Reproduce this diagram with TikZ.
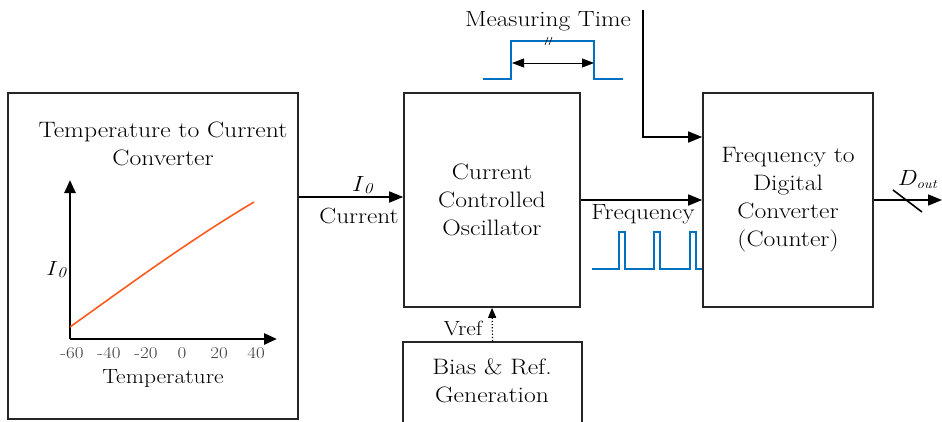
\documentclass[tikz,border=0pt]{standalone}
\usepackage{fontspec}
\setmainfont{Latin Modern Roman}[FakeStretch=1.15]
\usetikzlibrary{arrows.meta}
\definecolor{wblue}{RGB}{0,112,192}
\definecolor{corange}{RGB}{255,90,30}
\newcommand{\Izero}{\textit{I}\raisebox{-2pt}{\fontsize{15}{15}\selectfont\itshape 0}}
\begin{document}
\begin{tikzpicture}[x=1pt,y=-1pt,
  blk/.style={draw=black!85,line width=1.6pt,minimum width=#1},
  txt/.style={font=\fontsize{22.3}{28}\selectfont,align=center,inner sep=0pt},
  lbl/.style={font=\fontsize{22}{24}\selectfont,inner sep=0pt},
  glbl/.style={font=\fontsize{20.5}{24}\selectfont,inner sep=0pt},
  tick/.style={font=\fontsize{16.5}{18}\selectfont,text=black!75,inner sep=0pt},
  arr/.style={line width=1.6pt,-{Triangle[length=14pt,width=11pt]}},
  wave/.style={draw=wblue,line width=2.4pt}]
\useasboundingbox (0,0) rectangle (942,421);
% boxes
\node[blk=290pt,minimum height=326pt] (tc) at (153,256) {};
\node[blk=176pt,minimum height=214pt] (cco) at (492,200) {};
\node[blk=170pt,minimum height=214pt] (fdc) at (788,200) {};
\node[blk=179pt,minimum height=90pt] (bias) at (492.5,387) {};
% box texts
\node[txt] (tctitle) at (163,144) {Temperature to Current\\Converter};
\node[txt] (ccotext) at (492,200) {Current\\Controlled\\Oscillator};
\node[txt] (fdctext) at (788,200) {Frequency to\\Digital\\Converter\\(Counter)};
\node[txt] (biastext) at (492,381) {Bias \& Ref.\\Generation};
% graph
\coordinate (orig) at (70,339);
\coordinate (ytop) at (70,180);
\coordinate (xend) at (277,339);
\draw[line width=2.6pt,-{Triangle[length=13pt,width=11pt]}] (orig) -- (ytop);
\draw[line width=2.6pt,-{Triangle[length=13pt,width=11pt]}] (orig) -- (xend);
\coordinate (cs) at (70,327);
\coordinate (ce) at (254,202);
\draw[corange,line width=1.6pt] (cs) .. controls (130,284) and (190,240) .. (ce);
\node[glbl] (i0g) at (56,270) {\Izero};
\node[tick] (t1) at (72,353) {-60};
\node[tick] (t2) at (109,353) {-40};
\node[tick] (t3) at (146,353) {-20};
\node[tick] (t4) at (182,353) {0};
\node[tick] (t5) at (219,353) {20};
\node[tick] (t6) at (256,353) {40};
\node[glbl] (templbl) at (163,379) {Temperature};
% I0 current arrow
\coordinate (a1s) at (tc.east |- 0,197);
\coordinate (a1e) at (cco.west |- 0,197);
\draw[arr] (a1s) -- (a1e);
\node[lbl] (i0lbl) at (362,185) {\Izero};
\node[lbl] (curlbl) at (359,216) {Current};
% frequency arrow
\coordinate (a2s) at (cco.east |- 0,200);
\coordinate (a2e) at (fdc.west |- 0,200);
\draw[arr] (a2s) -- (a2e);
\node[lbl] (freqlbl) at (643,214) {Frequency};
\draw[wave] (592,269) -- (619,269) -- (619,232) -- (625,232) -- (625,269)
  -- (654,269) -- (654,232) -- (660,232) -- (660,269)
  -- (690,269) -- (690,232) -- (696,232) -- (696,269) -- (702,269);
% Vref
\draw[line width=1.2pt,dotted,-{Triangle[length=10pt,width=8pt]}] (bias.north) -- (cco.south);
\node[glbl] (vref) at (463,328) {Vref};
% measuring time
\node[lbl] (mt) at (548,21) {Measuring Time};
\draw[wave] (483,79) -- (511,79) -- (511,41) -- (594,41) -- (594,79) -- (623,79);
\coordinate (mtl) at (512,63);
\coordinate (mtr) at (594,63);
\draw[line width=0.8pt,{Triangle[length=12pt,width=9pt]}-{Triangle[length=12pt,width=9pt]}] (mtl) -- (mtr);
\draw[line width=0.6pt] (545,45) -- (548,37) (549,45) -- (552,37);
% measuring time control line
\coordinate (mttop) at (643,10);
\coordinate (mtbend) at (643,137);
\coordinate (mtend) at (fdc.west |- 0,137);
\draw[arr] (mttop) -- (mtbend) -- (mtend);
% Dout
\coordinate (dend) at (942,200);
\coordinate (dstart) at (fdc.east |- 0,200);
\draw[arr] (dstart) -- (dend);
\draw[line width=1.6pt] (893,190) -- (922,212);
\node[lbl] (dout) at (917,180) {\textit{D}\raisebox{-3pt}{\fontsize{13}{13}\selectfont\itshape out}};
\end{tikzpicture}
\end{document}
